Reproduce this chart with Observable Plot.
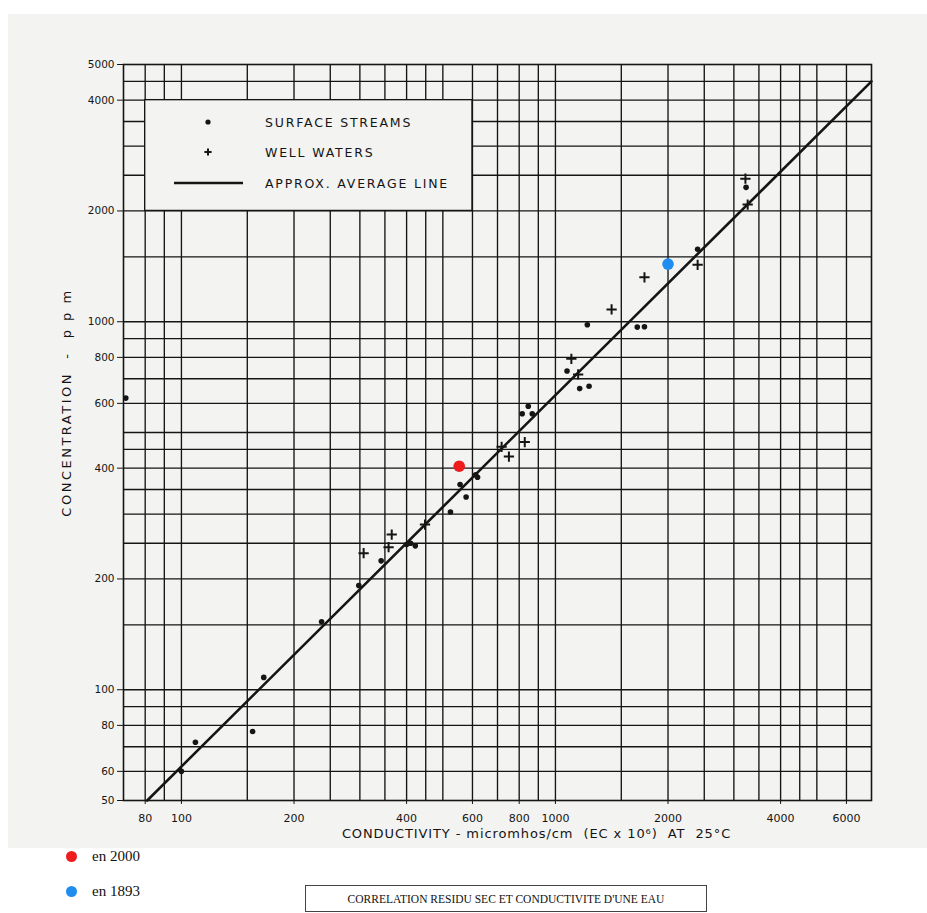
<!DOCTYPE html>
<html>
<head>
<meta charset="utf-8">
<script src="https://cdn.jsdelivr.net/npm/d3@7"></script>
<script src="https://cdn.jsdelivr.net/npm/@observablehq/plot@0.6"></script>
<style>
  html, body { margin: 0; padding: 0; background: #ffffff; }
  body { width: 927px; height: 913px; position: relative; overflow: hidden; font-family: "Liberation Serif", "Times New Roman", serif; }
  #chart { position: absolute; left: 8px; top: 14px; }
  #chart svg { background: #f3f3f1; display: block; }
  .key { position: absolute; left: 66px; font-size: 15px; color: #111; display: flex; align-items: center; }
  .key span.sw { display: inline-block; width: 11px; height: 11px; border-radius: 50%; margin-right: 15px; }
  #caption { position: absolute; left: 305px; top: 885px; width: 402px; height: 27px; border: 1px solid #444; box-sizing: border-box;
             font-size: 11.5px; color: #111; text-align: center; line-height: 26px; background: #fff; }
</style>
</head>
<body>
<div id="chart"></div>
<div class="key" style="top:848px"><span class="sw" style="background:#ee1c1c"></span>en 2000</div>
<div class="key" style="top:883px"><span class="sw" style="background:#1f8cf0"></span>en 1893</div>
<div id="caption">CORRELATION RESIDU SEC ET CONDUCTIVITE D'UNE EAU</div>
<script>
// ---- data ----
// Surface streams (dots): conductivity (micromhos/cm) and concentration (ppm)
const surfaceEC  = [71, 100, 109, 155, 166, 237, 298, 342, 400, 410, 422, 524, 556, 577, 612, 619, 815, 846, 867, 1074, 1161, 1230, 1217, 1655, 1730, 2400, 3234];
const surfaceTDS = [620, 60, 72, 77, 108, 153, 192, 224, 248, 250, 246, 304, 361, 334, 384, 378, 562, 589, 562, 735, 658, 668, 981, 967, 969, 1574, 2318];
// Well waters (plus)
const wellEC  = [307, 358, 365, 448, 718, 751, 828, 1103, 1150, 1413, 1730, 2400, 3221, 3266];
const wellTDS = [235, 244, 264, 281, 457, 430, 471, 793, 719, 1080, 1320, 1428, 2447, 2082];
// Approx. average line
const lineEC  = [81, 7000];
const lineTDS = [50, 4500];
// Highlighted samples
const year2000EC = [553], year2000TDS = [405];
const year1893EC = [2000], year1893TDS = [1434];
// Log-paper grid and tick labels
const xGrid = [80, 90, 100, 150, 200, 250, 300, 350, 400, 450, 500, 600, 700, 800, 900, 1000, 1500, 2000, 2500, 3000, 3500, 4000, 4500, 5000, 6000];
const yGrid = [60, 70, 80, 90, 100, 150, 200, 250, 300, 350, 400, 450, 500, 600, 700, 800, 900, 1000, 1500, 2000, 2500, 3000, 3500, 4000, 4500];
const xTicks = [80, 100, 200, 400, 600, 800, 1000, 2000, 4000, 6000];
const yTicks = [50, 60, 80, 100, 200, 400, 600, 800, 1000, 2000, 4000, 5000];
const legendBox = [{x1: 80, x2: 600, y1: 2000, y2: 4000}];
const legendLabels = ["SURFACE STREAMS", "WELL WATERS", "APPROX. AVERAGE LINE"];
const xTitle = "CONDUCTIVITY - micromhos/cm  (EC x 10\u2076)  AT  25\u00B0C";
const yTitle = "CONCENTRATION  -  p p m";

const surface = surfaceEC.map((x, i) => ({x, y: surfaceTDS[i]}));
const well = wellEC.map((x, i) => ({x, y: wellTDS[i]}));
const avgLine = lineEC.map((x, i) => ({x, y: lineTDS[i]}));
const p2000 = year2000EC.map((x, i) => ({x, y: year2000TDS[i]}));
const p1893 = year1893EC.map((x, i) => ({x, y: year1893TDS[i]}));

const ink = "#151515";
const bg = "#f3f3f1";
const font = "'DejaVu Sans', 'Liberation Sans', sans-serif";

// legend drawn inside the frame (function mark)
function legendMark(index, scales, values, dims) {
  const g = d3.create("svg:g").attr("font-family", font).attr("fill", ink);
  const ox = dims.marginLeft, oy = dims.marginTop;
  const rows = [58, 88, 119];
  g.append("circle").attr("cx", ox + 85).attr("cy", oy + rows[0]).attr("r", 2.6).attr("fill", ink);
  g.append("path").attr("d", `M${ox + 85 - 3.6},${oy + rows[1]}h7.2M${ox + 85},${oy + rows[1] - 3.6}v7.2`).attr("stroke", ink).attr("stroke-width", 2);
  g.append("line").attr("x1", ox + 51).attr("x2", ox + 120).attr("y1", oy + rows[2]).attr("y2", oy + rows[2]).attr("stroke", ink).attr("stroke-width", 2.6);
  legendLabels.forEach((t, i) => {
    g.append("text").attr("x", ox + 142).attr("y", oy + rows[i]).attr("dy", "0.36em")
      .attr("text-anchor", "start")
      .attr("font-size", 12.5).attr("letter-spacing", 1.8).text(t);
  });
  return g.node();
}

const chart = Plot.plot({
  width: 919,
  height: 834,
  marginLeft: 115,
  marginRight: 56,
  marginTop: 50,
  marginBottom: 48,
  style: {background: bg, fontFamily: font, color: ink},
  x: {type: "log", domain: [70, 7000], axis: null},
  y: {type: "log", domain: [50, 5000], axis: null},
  marks: [
    Plot.ruleX(xGrid, {y1: 50, y2: 5000, stroke: ink, strokeWidth: 1.35}),
    Plot.ruleY(yGrid, {x1: 70, x2: 7000, stroke: ink, strokeWidth: 1.35}),
    Plot.rect(legendBox, {x1: "x1", x2: "x2", y1: "y1", y2: "y2", fill: bg, stroke: ink, strokeWidth: 1.35}),
    Plot.frame({stroke: ink, strokeWidth: 1.6}),
    Plot.axisX(xTicks, {tickSize: 4, text: null, label: null, stroke: ink}),
    Plot.text(xTicks, {x: d => d, frameAnchor: "bottom", lineAnchor: "middle", textAnchor: "middle", dy: 18, fontSize: 11, fill: ink, text: d => String(d)}),
    Plot.axisY(yTicks, {tickSize: 6, tickPadding: 3, fontSize: 10.5, tickFormat: d3.format("d"), label: null, stroke: ink}),
    Plot.text([xTitle], {frameAnchor: "bottom", lineAnchor: "middle", textAnchor: "middle", dx: 39, dy: 33, fontSize: 13, fill: ink, text: d => d}),
    Plot.text([yTitle], {frameAnchor: "left", rotate: -90, textAnchor: "middle", lineAnchor: "middle", dx: -57, dy: -30, fontSize: 13, fill: ink, text: d => d}),
    legendMark,
    Plot.line(avgLine, {x: "x", y: "y", stroke: ink, strokeWidth: 2.6}),
    Plot.dot(surface, {x: "x", y: "y", r: 2.8, fill: ink}),
    Plot.dot(well, {x: "x", y: "y", symbol: "plus", r: 3.4, stroke: ink, strokeWidth: 2}),
    Plot.dot(p2000, {x: "x", y: "y", r: 5.8, fill: "#ee1c1c"}),
    Plot.dot(p1893, {x: "x", y: "y", r: 5.8, fill: "#1f8cf0"})
  ]
});
// widen the hand-lettered axis titles
d3.select(chart).selectAll("text").each(function () {
  if (this.textContent === xTitle) d3.select(this).attr("letter-spacing", 0.9);
  if (this.textContent === yTitle) d3.select(this).attr("letter-spacing", 2.5);
});
document.getElementById("chart").appendChild(chart);
</script>
</body>
</html>
